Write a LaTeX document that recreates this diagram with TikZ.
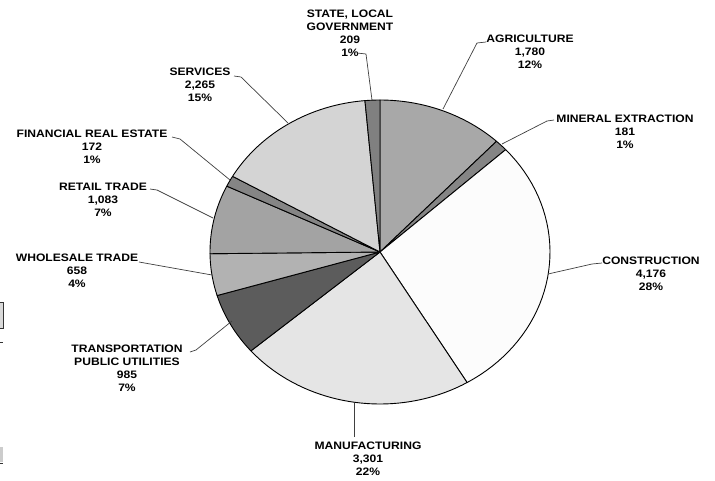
\documentclass[tikz,border=0pt]{standalone}
\usepackage{fontspec}
\newfontfamily\labfont{Liberation Sans}[FakeStretch=1.12]
\usetikzlibrary{calc}
\definecolor{cAgri}{gray}{0.66}
\definecolor{cMin}{gray}{0.52}
\definecolor{cCons}{gray}{0.99}
\definecolor{cManu}{gray}{0.90}
\definecolor{cTrans}{gray}{0.36}
\definecolor{cWhole}{gray}{0.70}
\definecolor{cRetail}{gray}{0.64}
\definecolor{cFin}{gray}{0.52}
\definecolor{cServ}{gray}{0.83}
\definecolor{cState}{gray}{0.50}
\newcommand\pieslice[3]{%
  \filldraw[wedge, fill=#3] (C) -- plot[domain=#1:#2, samples=40]
    ({380+170*cos(\x)},{252-152*sin(\x)}) -- cycle;}
\begin{document}
\begin{tikzpicture}[x=1pt,y=-1pt,
  lab/.style={font={\labfont\bfseries\fontsize{10.8}{13}\selectfont}, align=center, inner sep=0pt},
  leader/.style={draw=black!75, line width=0.7pt, line join=round},
  wedge/.style={draw=black, line width=0.9pt, line join=round}]
\useasboundingbox (0,0) rectangle (715,480);
\fill[white] (0,0) rectangle (715,480);
\coordinate (C) at (380,252);
% slices
\pieslice{90}{46.73}{cAgri}
\pieslice{46.73}{42.33}{cMin}
\pieslice{42.33}{-59.18}{cCons}
\pieslice{-59.18}{-139.42}{cManu}
\pieslice{-139.42}{-163.36}{cTrans}
\pieslice{-163.36}{-179.35}{cWhole}
\pieslice{-179.35}{-205.68}{cRetail}
\pieslice{-205.68}{-209.86}{cFin}
\pieslice{-209.86}{-264.92}{cServ}
\pieslice{-264.92}{-270}{cState}
% labels
\node[lab] (lState) at (350,33) {STATE, LOCAL\\GOVERNMENT\\209\\1\%};
\node[lab] (lAgri) at (530,52) {AGRICULTURE\\1,780\\12\%};
\node[lab] (lMin) at (625,132) {MINERAL EXTRACTION\\181\\1\%};
\node[lab] (lCons) at (651,274) {CONSTRUCTION\\4,176\\28\%};
\node[lab] (lManu) at (368,459) {MANUFACTURING\\3,301\\22\%};
\node[lab] (lTrans) at (127,368) {TRANSPORTATION\\PUBLIC UTILITIES\\985\\7\%};
\node[lab] (lWhole) at (77,271) {WHOLESALE TRADE\\658\\4\%};
\node[lab] (lRetail) at (103,200) {RETAIL TRADE\\1,083\\7\%};
\node[lab] (lFin) at (92,147) {FINANCIAL REAL ESTATE\\172\\1\%};
\node[lab] (lServ) at (200,85) {SERVICES\\2,265\\15\%};
% leader anchor points
\coordinate (eState) at (357,53);  \coordinate (kState) at (366,54);  \coordinate (pState) at (372,100);
\coordinate (eAgri) at (486,42);   \coordinate (kAgri) at (477,43);   \coordinate (pAgri) at (443,109);
\coordinate (eMin) at (554,120);   \coordinate (kMin) at (547,121);   \coordinate (pMin) at (502,144);
\coordinate (eCons) at (602,263);  \coordinate (kCons) at (592,264);  \coordinate (pCons) at (548,274);
\coordinate (eManu) at (354,437);  \coordinate (pManu) at (354,403);
\coordinate (eTrans) at (190,352); \coordinate (kTrans) at (196,350); \coordinate (pTrans) at (232,321);
\coordinate (eWhole) at (139,262); \coordinate (pWhole) at (212,275);
\coordinate (eRetail) at (150,189); \coordinate (kRetail) at (157,190); \coordinate (pRetail) at (213,218);
\coordinate (eFin) at (172,137);   \coordinate (kFin) at (180,139);   \coordinate (pFin) at (230,180);
\coordinate (eServ) at (234,76);   \coordinate (kServ) at (241,77);   \coordinate (pServ) at (288,123);
\draw[leader] (eState) -- (kState) -- (pState);
\draw[leader] (eAgri) -- (kAgri) -- (pAgri);
\draw[leader] (eMin) -- (kMin) -- (pMin);
\draw[leader] (eCons) -- (kCons) -- (pCons);
\draw[leader] (eManu) -- (pManu);
\draw[leader] (eTrans) -- (kTrans) -- (pTrans);
\draw[leader] (eWhole) -- (pWhole);
\draw[leader] (eRetail) -- (kRetail) -- (pRetail);
\draw[leader] (eFin) -- (kFin) -- (pFin);
\draw[leader] (eServ) -- (kServ) -- (pServ);
% scan remnants at the left edge
\filldraw[fill=black!15, draw=black!80, line width=0.8pt] (-1,302) rectangle (3,328);
\draw[black!80, line width=1pt] (0,342) -- (3,342);
\fill[black!20] (0,447) rectangle (3,462);
\draw[black!80, line width=1pt] (0,463) -- (3,463);
\end{tikzpicture}
\end{document}
